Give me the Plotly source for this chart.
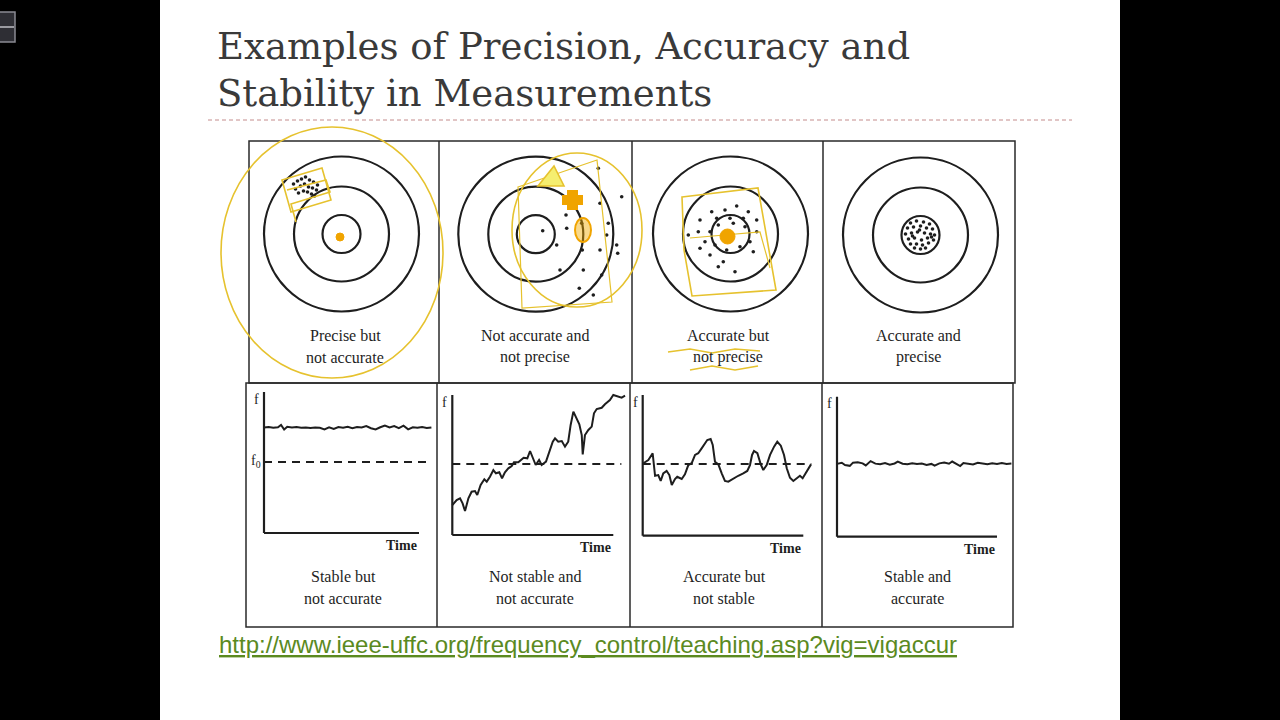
import plotly.graph_objects as go

W, H = 1280, 720

# ---------------- data ----------------
TITLE_LINES = ["Examples of Precision, Accuracy and", "Stability in Measurements"]
LINK_TEXT = "http://www.ieee-uffc.org/frequency_control/teaching.asp?vig=vigaccur"

RING_RADII = [19, 47.5, 77.5]
TARGET_CAPTIONS = [
    ["Precise but", "not accurate"],
    ["Not accurate and", "not precise"],
    ["Accurate but", "not precise"],
    ["Accurate and", "precise"],
]
SERIES_CAPTIONS = [
    ["Stable but", "not accurate"],
    ["Not stable and", "not accurate"],
    ["Accurate but", "not stable"],
    ["Stable and", "accurate"],
]

# hits on the targets (offset from the bull's-eye)
HITS1_X = [-48, -44, -40, -36, -32, -28, -24, -46, -41, -37, -33, -29, -25, -43, -38, -34, -30, -27]
HITS1_Y = [50, 53, 55, 57, 54, 52, 49, 45, 48, 50, 47, 46, 44, 41, 43, 42, 40, 38]
HITS2_X = [17.5, 62.5, 85.9, 64.2, 30.2, 72.5, 30.9, 6.9, 70.9, 20.9, 46.5, 64.2, 80.9, 81.9, 24.2, 47.5, 65.9, 43.5, 57.5, 45.9]
HITS2_Y = [57.5, 65.9, 37.5, 30.9, 19.2, 10.9, 5.9, 3.5, -0.8, -10.8, -15.8, -15.8, -10.8, -19.1, -35.8, -35.8, -40.8, -54.1, -60.8, 10.9]
HITS3_X = [-18.8, -5.5, 6.2, 17.8, -30.5, -13.8, -0.5, 12.8, 26.2, -32.2, -20.5, -12.2, 2.8, 14.5, -25.5, -15.5, -3.8, 9.5, 22.8, -30.5, -20.5, -7.2, 4.5, -12.2, 19.5, 26.2, -42.2]
HITS3_Y = [22.3, 24, 28, 22.3, 14, 15.7, 15.7, 15.7, 14, 2.3, 2.3, 9, 10.7, 7.3, -7.7, -11, -16, -12.7, -17.7, -14.3, -21, -27.7, -37.7, -32.7, -7.7, 2.3, -1]
HITS4_X = [-10, -4, 3, 9, -13, -7, 0, 6, 12, -15, -9, -3, 4, 10, 14, -12, -6, 1, 7, 13, -10, -4, 2, 8, -6, 0, 5, -1, 11, -8]
HITS4_Y = [12, 14, 13, 11, 7, 8, 9, 7, 6, 1, 2, 3, 2, 1, 0, -4, -3, -5, -3, -5, -9, -9, -10, -8, -13, -14, -13, 5, -2, -1]

# frequency vs time (time 0-100 = axis length, f 0-100 = axis height)
S1_T = [0, 3, 6, 9, 11, 13, 15, 18, 21, 24, 27, 30, 33, 36, 39, 42, 45, 48, 51, 54,
        57, 60, 63, 66, 69, 72, 75, 78, 81, 84, 87, 90, 93, 96, 99, 102, 105, 108]
S1_F = [74.8, 75.2, 74.6, 75.0, 76.6, 73.4, 75.3, 74.9, 75.2, 74.7, 74.9, 74.5, 74.8, 74.6, 73.5, 74.9, 73.8, 75.1, 74.6, 75.3,
        74.4, 75.2, 74.8, 75.9, 74.3, 73.4, 75.0, 76.2, 74.9, 75.8, 74.4, 76.1, 73.5, 75.0, 74.6, 75.1, 74.5, 74.9]
S2_T = [0, 2.7, 4.8, 6.4, 7.9, 10, 12, 14.1, 15.5, 17.6, 19.9, 21.4, 23.4, 25.5, 27.1, 29.2, 30.9, 32.7, 34.8, 36.9,
        38.3, 41, 44.3, 46.6, 48.3, 49.9, 51.8, 53.9, 55.5, 58.2, 60.7, 62.4, 63.8, 65.8, 68, 70, 72, 73.5, 75.2, 77.3,
        78.9, 80.4, 81, 82.4, 84.5, 86.6, 88, 89.7, 92.8, 94.8, 97.9, 100, 103.1, 105.2, 107.3]
S2_F = [21.4, 25, 26.2, 22.6, 17.1, 26.2, 30.9, 31.4, 28.6, 35.7, 39.8, 38.1, 41.6, 46.4, 44.1, 44.8, 40.5, 44.8, 47.6, 49.3,
        51.9, 51.9, 55.2, 54.8, 60, 55.9, 50, 53.6, 50, 52.4, 60.7, 66.6, 69, 66.6, 67.1, 63.1, 66.6, 78.6, 88.1, 83.4,
        79.1, 71.4, 57.6, 71.4, 75, 77.4, 86.9, 90, 90.9, 93.4, 96.4, 100, 98.8, 98.1, 99.5]
S3_T = [0.4, 3.5, 6.2, 7, 7.7, 9.7, 11.2, 12.8, 14.9, 16.6, 18.1, 20.1, 21.5, 24.3, 26.3, 28.4, 30.5, 32.6, 34.6, 36.7,
        38.8, 40.2, 42.3, 43.6, 45, 47.1, 49.2, 51.2, 53.3, 56.4, 59.5, 62.6, 65.1, 66.8, 68.1, 69.3, 71.4, 73.5, 75.1, 77.2,
        79.3, 81.8, 83.8, 86, 88, 89.7, 91.7, 93.8, 95.9, 97.9, 99.6, 102.1, 104.8]
S3_F = [51.5, 53.8, 58.6, 47.9, 42.6, 43.1, 38.9, 44.3, 46, 43.1, 36, 40.3, 41.9, 40.3, 43.6, 50.2, 51.5, 57.4, 58.6, 62.1,
        65.7, 68, 68.7, 64.5, 52.6, 50.7, 44.3, 38.9, 38.4, 40.8, 42.6, 44.3, 46, 50.2, 57.4, 60.2, 58.6, 50.7, 46.7, 50.2,
        57.4, 63.3, 66.8, 64, 57.4, 47.9, 41.2, 38.9, 40.8, 42.6, 40.8, 45.5, 50.7]
S4_T = [0, 3, 5, 8, 10, 13, 16, 18, 21, 24, 27, 30, 33, 36, 38, 41, 44, 47, 50, 53,
        56, 59, 61, 64, 67, 70, 72, 74, 77, 79, 82, 85, 88, 91, 94, 97, 100, 103, 106, 109]
S4_F = [52.0, 52.8, 51.2, 50.6, 52.9, 53.1, 52.4, 50.9, 54.0, 52.2, 51.8, 52.6, 51.4, 52.3, 53.6, 52.1, 51.7, 52.5, 51.9, 52.2,
        51.3, 52.0, 50.8, 52.4, 53.0, 52.1, 53.7, 52.2, 50.5, 52.6, 52.0, 51.6, 52.8, 52.1, 51.7, 52.5, 51.9, 52.6, 52.0, 52.3]
F0_LEVEL = [50.4, 50.7, 51.0, None]
F0_SPAN = [[0, 108], [0, 105], [0, 105], None]

HITS = [(HITS1_X, HITS1_Y), (HITS2_X, HITS2_Y), (HITS3_X, HITS3_Y), (HITS4_X, HITS4_Y)]
SERIES = [(S1_T, S1_F), (S2_T, S2_F), (S3_T, S3_F), (S4_T, S4_F)]

# ---------------- layout geometry (pixels) ----------------
TARGET_CENTERS = [(341.5, 234.0), (535.8, 234.2), (730.5, 234.0), (920.5, 235.0)]
HALF = 95
TS_GEOM = [(264, 533, 155, 141), (452.3, 535, 161, 140), (642.7, 535.7, 160.6, 140.7), (837, 536.7, 160, 140)]
TCAP_X = [345, 535, 728, 918]
SCAP_X = [343, 535, 724, 917]

INK = "#1e1e1e"
YEL = "#e6c22e"
ORA = "#f0a400"
SERIF = "Liberation Serif, Times New Roman, serif"
TITLE_FONT = "DejaVu Serif, serif"


def fx(x):
    return x / W


def fy(y):
    return 1 - y / H


def ppath(points, close=False):
    s = "M " + " L ".join(f"{fx(x):.5f},{fy(y):.5f}" for x, y in points)
    return s + (" Z" if close else "")


fig = go.Figure()
layout = {}
shapes = []
annotations = []

# background slide
shapes.append(dict(type="rect", xref="paper", yref="paper", x0=fx(160), x1=fx(1120), y0=0, y1=1,
                   fillcolor="#ffffff", line=dict(width=0), layer="below"))
# little UI button at top-left
shapes.append(dict(type="rect", xref="paper", yref="paper", x0=fx(-6), x1=fx(15), y0=fy(42), y1=fy(12),
                   fillcolor="#2e2e34", line=dict(color="#8a8a92", width=1.5), layer="below"))
shapes.append(dict(type="line", xref="paper", yref="paper", x0=fx(0), x1=fx(14), y0=fy(27), y1=fy(27),
                   line=dict(color="#9a9aa0", width=2)))

# title
for i, t in enumerate(TITLE_LINES):
    annotations.append(dict(text=t, xref="paper", yref="paper", x=fx(215), y=fy(47 + 47 * i),
                            xanchor="left", yanchor="middle", showarrow=False,
                            font=dict(family=TITLE_FONT, size=37, color="#3a3a3a")))
shapes.append(dict(type="line", xref="paper", yref="paper", x0=fx(208), x1=fx(1072), y0=fy(120), y1=fy(120),
                   line=dict(color="#c48c8c", width=1, dash="4px,3px")))

# figure frames
box_line = dict(color="#2a2a2a", width=1.5)
shapes.append(dict(type="rect", xref="paper", yref="paper", x0=fx(249), x1=fx(1015), y0=fy(383), y1=fy(141), line=box_line))
shapes.append(dict(type="rect", xref="paper", yref="paper", x0=fx(246), x1=fx(1013), y0=fy(627), y1=fy(383), line=box_line))
for xd in [439, 632, 823]:
    shapes.append(dict(type="line", xref="paper", yref="paper", x0=fx(xd), x1=fx(xd), y0=fy(383), y1=fy(141), line=box_line))
for xd in [437, 630, 822]:
    shapes.append(dict(type="line", xref="paper", yref="paper", x0=fx(xd), x1=fx(xd), y0=fy(627), y1=fy(383), line=box_line))

# ---- targets ----
for k in range(4):
    cx, cy = TARGET_CENTERS[k]
    ax = k + 1
    xa = "xaxis" if ax == 1 else f"xaxis{ax}"
    ya = "yaxis" if ax == 1 else f"yaxis{ax}"
    xr = "x" if ax == 1 else f"x{ax}"
    yr = "y" if ax == 1 else f"y{ax}"
    layout[xa] = dict(domain=[fx(cx - HALF), fx(cx + HALF)], range=[-HALF, HALF], visible=False, fixedrange=True)
    layout[ya] = dict(domain=[fy(cy + HALF), fy(cy - HALF)], range=[-HALF, HALF], visible=False, fixedrange=True)
    for r in RING_RADII:
        shapes.append(dict(type="circle", xref=xr, yref=yr, x0=-r, x1=r, y0=-r, y1=r,
                           line=dict(color=INK, width=2.2)))
    hx, hy = HITS[k]
    fig.add_trace(go.Scatter(x=hx, y=hy, mode="markers", xaxis=xr, yaxis=yr,
                             marker=dict(size=3.6, color=INK), hoverinfo="skip", showlegend=False))
    for j, line in enumerate(TARGET_CAPTIONS[k]):
        annotations.append(dict(text=line, xref="paper", yref="paper", x=fx(TCAP_X[k]), y=fy(335 + 22 * j),
                                xanchor="center", yanchor="middle", showarrow=False,
                                font=dict(family=SERIF, size=16, color=INK)))

# ---- time series ----
for k in range(4):
    ox, oy, lx, ly = TS_GEOM[k]
    ax = k + 5
    xa, ya, xr, yr = f"xaxis{ax}", f"yaxis{ax}", f"x{ax}", f"y{ax}"
    sx, sy = lx / 100, ly / 100
    layout[xa] = dict(domain=[fx(ox - 6 * sx), fx(ox + 114 * sx)], range=[-6, 114], visible=False, fixedrange=True)
    layout[ya] = dict(domain=[fy(oy + 6 * sy), fy(oy - 106 * sy)], range=[-6, 106], visible=False, fixedrange=True)
    shapes.append(dict(type="line", xref=xr, yref=yr, x0=0, x1=100, y0=0, y1=0, line=dict(color=INK, width=2.2)))
    shapes.append(dict(type="line", xref=xr, yref=yr, x0=0, x1=0, y0=0, y1=100, line=dict(color=INK, width=2.2)))
    if F0_LEVEL[k] is not None:
        fig.add_trace(go.Scatter(x=F0_SPAN[k], y=[F0_LEVEL[k], F0_LEVEL[k]], mode="lines", xaxis=xr, yaxis=yr,
                                 line=dict(color=INK, width=2, dash="8px,6px"), hoverinfo="skip", showlegend=False))
    t, f = SERIES[k]
    fig.add_trace(go.Scatter(x=t, y=f, mode="lines", xaxis=xr, yaxis=yr,
                             line=dict(color=INK, width=2), hoverinfo="skip", showlegend=False))
    annotations.append(dict(text="f", xref=xr, yref=yr, x=0, y=95, xanchor="right", yanchor="middle",
                            xshift=-3, showarrow=False, font=dict(family=SERIF, size=14, color=INK)))
    if k == 0:
        annotations.append(dict(text="f<sub>0</sub>", xref=xr, yref=yr, x=0, y=F0_LEVEL[k], xanchor="right",
                                yanchor="middle", xshift=-1, showarrow=False,
                                font=dict(family=SERIF, size=14, color=INK)))
    annotations.append(dict(text="<b>Time</b>", xref=xr, yref=yr, x=100, y=0, xanchor="right", yanchor="top",
                            yshift=-3, showarrow=False, font=dict(family=SERIF, size=14, color=INK)))
    for j, line in enumerate(SERIES_CAPTIONS[k]):
        annotations.append(dict(text=line, xref="paper", yref="paper", x=fx(SCAP_X[k]), y=fy(576 + 22 * j),
                                xanchor="center", yanchor="middle", showarrow=False,
                                font=dict(family=SERIF, size=16, color=INK)))

# ---- hand-drawn yellow markup ----
yl = dict(color=YEL, width=1.6)
shapes.append(dict(type="circle", xref="paper", yref="paper", x0=fx(221), x1=fx(443), y0=fy(378), y1=fy(127), line=yl))
shapes.append(dict(type="path", xref="paper", yref="paper",
                   path=ppath([(282, 180), (322, 168), (331, 200), (291, 212)], True), line=yl))
shapes.append(dict(type="path", xref="paper", yref="paper",
                   path=ppath([(287, 190), (326, 180), (330, 192), (291, 204), (296, 222)]), line=yl))
shapes.append(dict(type="circle", xref="paper", yref="paper", x0=fx(336), x1=fx(344), y0=fy(241), y1=fy(233),
                   fillcolor=ORA, line=dict(color=ORA, width=1)))
# panel 2
shapes.append(dict(type="circle", xref="paper", yref="paper", x0=fx(512), x1=fx(642), y0=fy(307), y1=fy(153), line=yl))
shapes.append(dict(type="path", xref="paper", yref="paper",
                   path=ppath([(518, 187), (597, 160), (612, 302), (522, 308)], True), line=dict(color=YEL, width=1.2)))
shapes.append(dict(type="path", xref="paper", yref="paper",
                   path=ppath([(538, 186), (554, 166), (564, 186)], True), fillcolor="#f5ee70", line=yl))
shapes.append(dict(type="rect", xref="paper", yref="paper", x0=fx(567), x1=fx(578), y0=fy(210), y1=fy(190),
                   fillcolor=ORA, line=dict(width=0)))
shapes.append(dict(type="rect", xref="paper", yref="paper", x0=fx(562), x1=fx(583), y0=fy(205), y1=fy(195),
                   fillcolor=ORA, line=dict(width=0)))
shapes.append(dict(type="circle", xref="paper", yref="paper", x0=fx(575), x1=fx(591), y0=fy(242), y1=fy(218),
                   fillcolor="rgba(240,170,0,0.45)", line=dict(color=ORA, width=2)))
# panel 3
shapes.append(dict(type="path", xref="paper", yref="paper",
                   path=ppath([(682, 197), (758, 188), (776, 290), (692, 296), (684, 250)], True), line=yl))
shapes.append(dict(type="path", xref="paper", yref="paper",
                   path=ppath([(690, 238), (760, 232), (770, 268)]), line=dict(color=YEL, width=1.2)))
shapes.append(dict(type="circle", xref="paper", yref="paper", x0=fx(720), x1=fx(735), y0=fy(244), y1=fy(229),
                   fillcolor=ORA, line=dict(color=ORA, width=1)))
shapes.append(dict(type="path", xref="paper", yref="paper",
                   path=ppath([(668, 352), (690, 349), (712, 353), (735, 349), (760, 351)]), line=yl))
shapes.append(dict(type="path", xref="paper", yref="paper",
                   path=ppath([(690, 370), (712, 366), (735, 370), (758, 366)]), line=yl))

# link
annotations.append(dict(text=f"<u>{LINK_TEXT}</u>", xref="paper", yref="paper", x=fx(217), y=fy(644),
                        xanchor="left", yanchor="middle", showarrow=False,
                        font=dict(family="Liberation Sans, Arial, sans-serif", size=24, color="#5b8a1f")))

fig.update_layout(
    width=W, height=H, margin=dict(l=0, r=0, t=0, b=0),
    paper_bgcolor="#000000", plot_bgcolor="rgba(0,0,0,0)",
    shapes=shapes, annotations=annotations, showlegend=False, **layout,
)
fig.write_html("out.html", config={"displayModeBar": False},
               post_script="document.body.style.margin='0';document.body.style.overflow='hidden';document.body.style.background='#000';")
